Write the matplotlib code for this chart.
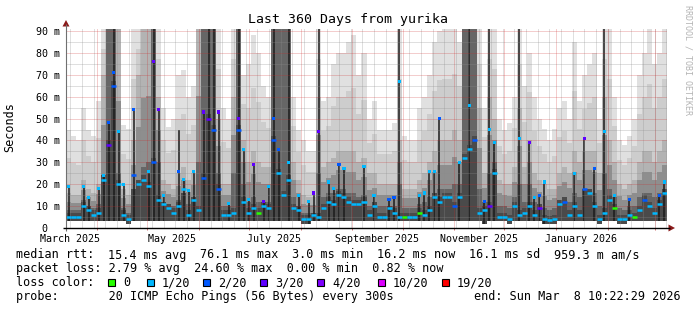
import matplotlib
matplotlib.use("Agg")
import matplotlib.pyplot as plt
from matplotlib.patches import Polygon, Rectangle
from datetime import datetime, timedelta

# ---------------- data (3-day bins, 120 bins over 360 days) ----------------
median_ms = [
    5, 5, 5, 10, 8, 6, 7, 22, 38, 65,
    20, 6, 4, 24, 20, 22, 19, 30, 13, 11,
    9, 7, 10, 18, 6, 13, 8, 23, 50, 45,
    18, 6, 6, 7, 45, 12, 7, 9, 7, 10,
    9, 40, 25, 15, 22, 9, 8, 4, 4, 6,
    5, 9, 12, 11, 15, 14, 12, 11, 11, 12,
    6, 10, 5, 5, 9, 7, 5, 5, 5, 5,
    7, 6, 8, 14, 12, 14, 14, 10, 14, 32,
    36, 40, 7, 8, 10, 25, 5, 5, 4, 10,
    6, 7, 10, 6, 9, 4, 3.5, 4, 11, 12,
    6, 10, 6, 18, 16, 10, 4, 7, 13, 9,
    4, 4, 6, 5, 8, 13, 10, 7, 11, 16]

loss_idx = [
    1, 1, 1, 1, 1, 1, 1, 1, 3, 2,
    1, 1, 1, 2, 1, 1, 1, 2, 1, 1,
    1, 1, 1, 1, 1, 1, 1, 2, 3, 2,
    2, 1, 1, 1, 2, 1, 1, 1, 0, 1,
    1, 2, 1, 1, 1, 1, 1, 1, 1, 1,
    1, 1, 1, 1, 1, 1, 1, 1, 1, 1,
    1, 1, 1, 1, 1, 1, 1, 0, 1, 1,
    0, 1, 1, 1, 1, 1, 1, 2, 1, 1,
    1, 2, 1, 1, 3, 1, 1, 1, 1, 1,
    1, 1, 1, 1, 3, 1, 1, 1, 1, 2,
    1, 1, 1, 2, 1, 1, 1, 1, 1, 0,
    1, 1, 1, 0, 1, 2, 1, 1, 1, 1]

smoke_low = [
    3, 3, 3, 3, 3, 3, 3, 3, 3, 3,
    3, 3, 2, 3, 3, 3, 3, 3, 3, 3,
    3, 3, 3, 3, 3, 3, 3, 3, 3, 3,
    3, 3, 3, 3, 3, 3, 3, 3, 3, 3,
    3, 3, 3, 3, 3, 3, 3, 2, 2, 3,
    3, 3, 3, 3, 3, 3, 3, 3, 3, 3,
    3, 3, 3, 3, 3, 3, 3, 3, 3, 3,
    3, 3, 3, 3, 3, 3, 3, 3, 3, 3,
    3, 3, 3, 2, 3, 3, 3, 3, 2, 3,
    3, 3, 3, 3, 3, 2, 2, 2, 3, 3,
    3, 3, 3, 3, 3, 3, 2, 3, 3, 3,
    2, 2, 3, 3, 3, 3, 3, 3, 3, 3]

smoke_light = [
    45, 42, 40, 55, 45, 42, 58, 91, 91, 91,
    91, 47, 45, 91, 91, 91, 91, 91, 91, 55,
    46, 50, 70, 72, 60, 65, 91, 91, 91, 91,
    91, 55, 50, 91, 91, 70, 75, 88, 80, 65,
    60, 91, 91, 91, 91, 60, 45, 40, 35, 35,
    91, 58, 60, 75, 80, 80, 85, 88, 70, 80,
    50, 58, 45, 45, 45, 48, 91, 42, 40, 40,
    55, 60, 70, 85, 90, 91, 91, 91, 85, 91,
    91, 91, 91, 55, 91, 91, 50, 45, 48, 60,
    91, 65, 80, 60, 50, 45, 40, 45, 55, 58,
    50, 85, 58, 70, 75, 80, 50, 91, 91, 60,
    40, 38, 42, 50, 70, 80, 91, 75, 80, 91]

smoke_mid = [
    16, 15, 15, 22, 18, 16, 20, 70, 91, 91,
    91, 18, 15, 40, 70, 91, 91, 91, 60, 22,
    20, 18, 25, 28, 22, 25, 91, 91, 91, 91,
    50, 20, 20, 60, 91, 40, 30, 35, 30, 28,
    28, 91, 91, 91, 91, 30, 22, 15, 14, 14,
    60, 28, 30, 32, 35, 35, 35, 35, 30, 32,
    25, 25, 20, 20, 20, 20, 40, 18, 18, 18,
    22, 25, 30, 35, 40, 40, 40, 45, 40, 91,
    91, 91, 55, 25, 60, 50, 22, 20, 20, 28,
    55, 28, 40, 25, 22, 20, 18, 18, 25, 28,
    25, 35, 30, 35, 35, 35, 25, 60, 40, 30,
    20, 18, 20, 22, 30, 35, 35, 30, 35, 40]

smoke_dark = [
    8, 8, 8, 13, 10, 9, 11, 24, 91, 91,
    25, 9, 7, 18, 22, 28, 30, 91, 30, 12,
    11, 10, 13, 16, 11, 14, 30, 91, 91, 91,
    25, 10, 10, 25, 91, 20, 12, 14, 12, 12,
    12, 91, 91, 91, 91, 14, 10, 7, 7, 7,
    25, 14, 16, 16, 18, 18, 16, 16, 14, 15,
    10, 12, 10, 10, 10, 10, 20, 9, 9, 9,
    11, 12, 14, 16, 18, 18, 18, 20, 20, 91,
    91, 91, 18, 12, 25, 30, 10, 10, 9, 14,
    20, 12, 20, 12, 11, 9, 8, 9, 13, 14,
    12, 16, 14, 18, 18, 16, 10, 25, 18, 14,
    9, 8, 10, 10, 14, 16, 16, 14, 16, 18]

peak_ms = [
    19, 0, 0, 19, 14, 0, 18, 24, 48, 71,
    44, 20, 0, 54, 0, 0, 26, 76, 54, 15,
    0, 0, 26, 22, 17, 26, 0, 53, 0, 0,
    53, 0, 11, 0, 50, 36, 13, 29, 0, 12,
    19, 50, 36, 0, 30, 0, 15, 0, 12, 16,
    44, 0, 21, 18, 29, 27, 0, 0, 0, 28,
    0, 15, 0, 0, 13, 14, 67, 0, 0, 0,
    15, 16, 26, 26, 50, 0, 0, 0, 30, 0,
    56, 0, 0, 12, 45, 39, 0, 0, 0, 0,
    41, 0, 39, 14, 15, 21, 0, 0, 0, 0,
    0, 25, 0, 41, 0, 27, 0, 44, 0, 15,
    0, 0, 13, 0, 0, 0, 0, 0, 15, 21]

peak_loss = [
    1, 0, 0, 1, 1, 0, 1, 1, 2, 2,
    1, 1, 0, 2, 0, 0, 1, 3, 3, 1,
    0, 0, 2, 1, 1, 1, 0, 3, 0, 0,
    3, 0, 1, 0, 3, 1, 1, 3, 0, 3,
    1, 2, 2, 0, 1, 0, 1, 0, 1, 3,
    3, 0, 1, 1, 2, 1, 0, 0, 0, 1,
    0, 1, 0, 0, 2, 2, 1, 0, 0, 0,
    1, 1, 1, 1, 2, 0, 0, 0, 1, 0,
    1, 0, 0, 2, 1, 1, 0, 0, 0, 0,
    1, 0, 3, 1, 2, 1, 0, 0, 0, 0,
    0, 1, 0, 3, 0, 2, 0, 1, 0, 1,
    0, 0, 2, 0, 0, 0, 0, 0, 2, 1]

needle_top = [
    0, 0, 0, 0, 0, 0, 0, 0, 0, 91,
    0, 0, 0, 0, 0, 0, 0, 91, 0, 0,
    0, 0, 45, 0, 0, 0, 0, 0, 91, 91,
    0, 0, 0, 0, 91, 0, 0, 0, 0, 0,
    0, 91, 0, 0, 91, 0, 0, 0, 0, 0,
    91, 0, 0, 0, 0, 0, 0, 0, 0, 0,
    0, 0, 0, 0, 0, 0, 91, 0, 0, 0,
    0, 0, 0, 0, 0, 0, 0, 0, 0, 0,
    91, 0, 0, 0, 91, 0, 0, 0, 0, 0,
    91, 0, 0, 0, 0, 0, 0, 0, 0, 0,
    0, 0, 0, 0, 0, 0, 0, 91, 0, 0,
    0, 0, 0, 0, 0, 0, 0, 0, 0, 0]

loss_labels = ["0", "1/20", "2/20", "3/20", "4/20", "10/20", "19/20"]
loss_colors = ["#26ff00", "#00b8ff", "#0059ff", "#5e00ff", "#7e00ff", "#dd00ff", "#ff0000"]

y_ticks = [0, 10, 20, 30, 40, 50, 60, 70, 80, 90]
y_tick_labels = [" 0  ", "10 m", "20 m", "30 m", "40 m", "50 m", "60 m", "70 m", "80 m", "90 m"]
x_label_months = [(2025, 3), (2025, 5), (2025, 7), (2025, 9), (2025, 11), (2026, 1)]
x_tick_labels = ["March 2025", "May 2025", "July 2025", "September 2025", "November 2025", "January 2026"]

title = "Last 360 Days from yurika"
y_label = "Seconds"
stats_rtt = [("median rtt:", 16), ("15.4 ms avg", 108), ("76.1 ms max", 200), ("3.0 ms min", 292),
             ("16.2 ms now", 377), ("16.1 ms sd", 469), ("959.3 m am/s", 554)]
stats_loss = "packet loss: 2.79 % avg  24.60 % max  0.00 % min  0.82 % now"
probe_text = "probe:       20 ICMP Echo Pings (56 Bytes) every 300s"
end_text = "end: Sun Mar  8 10:22:29 2026"
watermark = "RRDTOOL / TOBI OETIKER"

end_time = datetime(2026, 3, 8, 10, 22, 29)
span_days = 360
bin_days = 3
start_time = end_time - timedelta(days=span_days)


def day_of(dt):
    return (dt - start_time).total_seconds() / 86400.0


# ---------------- figure ----------------
W, H = 697, 310
MONO = "DejaVu Sans Mono"
fig = plt.figure(figsize=(W / 100, H / 100), dpi=100)
fig.patch.set_facecolor("white")

PX_L, PX_B, PX_W, PX_H = 66, 228, 601, 200
y_max = PX_H / (197.0 / 90.0)
ax = fig.add_axes([PX_L / W, (H - PX_B) / H, PX_W / W, PX_H / H])
ax.set_xlim(0, span_days)
ax.set_ylim(0, y_max)
ax.set_facecolor("white")
for s in ax.spines.values():
    s.set_visible(False)

n = len(median_ms)
lefts = [i * bin_days for i in range(n)]
centers = [l + bin_days / 2 for l in lefts]
rights = [l + bin_days for l in lefts]


def band(tops, color, z):
    heights = [max(t - b, 0) for t, b in zip(tops, smoke_low)]
    ax.bar(lefts, heights, width=bin_days, bottom=smoke_low, align="edge",
           color=color, linewidth=0, antialiased=False, zorder=z)


# smoke: graded shades between the outer (light) and inner (dark) pings
shades = [(0.0, "#e0e0e0"), (0.45, "#cdcdcd"), (1.0, "#b3b3b3")]
for frac, col in shades:
    band([l - (l - m) * frac for l, m in zip(smoke_light, smoke_mid)], col, 1)
inner = [(0.5, "#8e8e8e"), (1.0, "#666666")]
for frac, col in inner:
    band([m - (m - d) * frac for m, d in zip(smoke_mid, smoke_dark)], col, 2)
band([min(d, md + 2) for d, md in zip(smoke_dark, median_ms)], "#4a4a4a", 3)

# dark needles
nx, nlo, nhi = [], [], []
for c, lo, p, t in zip(centers, smoke_low, peak_ms, needle_top):
    top = max(p, t)
    if top > 0:
        nx.append(c); nlo.append(lo); nhi.append(min(top, y_max))
ax.vlines(nx, nlo, nhi, colors="#1c1c1c", linewidth=1.1, zorder=4)

# grid (drawn over the smoke, like rrdtool)
minor_col = (0.55, 0.55, 0.55, 0.55)
major_col = (0.80, 0.15, 0.15, 0.45)
dot = (0, (1, 1))
for v in range(5, 91, 10):
    ax.axhline(v, color=minor_col, lw=0.72, ls=dot, zorder=5)
sunday = datetime(2025, 3, 16)
while day_of(sunday) < span_days:
    ax.axvline(day_of(sunday), color=minor_col, lw=0.72, ls=dot, zorder=5)
    sunday += timedelta(days=7)
for v in y_ticks[1:]:
    ax.axhline(v, color=major_col, lw=0.72, ls=dot, zorder=5)
month_starts = []
y, m = 2025, 4
while True:
    d = day_of(datetime(y, m, 1))
    if d >= span_days:
        break
    month_starts.append(d)
    ax.axvline(d, color=major_col, lw=0.72, ls=dot, zorder=5)
    m += 1
    if m > 12:
        m = 1; y += 1

# median segments coloured by loss
ax.hlines(median_ms, lefts, rights, colors=[loss_colors[k] for k in loss_idx],
          linewidth=1.8, zorder=6)
px, py, pc = [], [], []
for c, p, k in zip(centers, peak_ms, peak_loss):
    if p > 0:
        px.append(c); py.append(p); pc.append(loss_colors[k])
ax.scatter(px, py, marker="s", s=5.0, c=pc, linewidths=0, zorder=7)

# ticks and labels
ax.set_yticks(y_ticks)
ax.set_yticklabels(y_tick_labels, family=MONO, fontsize=7.2)
ax.tick_params(axis="y", length=0, pad=4.3)
ax.set_xticks(month_starts)
ax.set_xticklabels([])
ax.tick_params(axis="x", which="major", length=1.5, width=0.7, color="#d07070", direction="out")
label_pos = [day_of(datetime(yy, mm, 16)) for yy, mm in x_label_months]
ax.set_xticks(label_pos, minor=True)
ax.set_xticklabels(x_tick_labels, minor=True, family=MONO, fontsize=7.2)
ax.tick_params(axis="x", which="minor", length=0, pad=4.0)

# ---------------- pixel overlay ----------------
ov = fig.add_axes([0, 0, 1, 1])
ov.set_xlim(0, W)
ov.set_ylim(H, 0)
ov.axis("off")
ov.patch.set_alpha(0)

ov.plot([PX_L, PX_L], [PX_B + 3, 24], color="#707070", lw=0.8, solid_capstyle="butt")
ov.plot([PX_L - 3, 670], [PX_B, PX_B], color="#000000", lw=1.0, solid_capstyle="butt")
ov.add_patch(Polygon([[PX_L - 3.5, 26.5], [PX_L + 3.5, 26.5], [PX_L, 20]], closed=True,
                     facecolor="#8b1a1a", edgecolor="none"))
ov.add_patch(Polygon([[668.5, PX_B - 3.5], [668.5, PX_B + 3.5], [675, PX_B]], closed=True,
                     facecolor="#8b1a1a", edgecolor="none"))

ov.text(348, 20, title, family=MONO, fontsize=9.5, ha="center", va="center")
ov.text(10, 127, y_label, family=MONO, fontsize=8.5, ha="center", va="center", rotation=90)
ov.text(688, 60, watermark, family=MONO, fontsize=6.0, ha="center", va="center",
        rotation=270, color="#b4b4b4")

LEG = 8.5
row_y = [255, 268.5, 282.5, 296.5]
for txt, x0 in stats_rtt:
    ov.text(x0, row_y[0], txt, family=MONO, fontsize=LEG, ha="left", va="center")
ov.text(16, row_y[1], stats_loss, family=MONO, fontsize=LEG, ha="left", va="center")
ov.text(16, row_y[2], "loss color:", family=MONO, fontsize=LEG, ha="left", va="center")
box_x = [108, 147, 203, 260, 317, 378, 442]
for bx, lab, col in zip(box_x, loss_labels, loss_colors):
    ov.add_patch(Rectangle((bx, row_y[2] - 3.5), 7, 7, facecolor=col, edgecolor="black", lw=0.8))
    ov.text(bx + 15, row_y[2], lab, family=MONO, fontsize=LEG, ha="left", va="center")
ov.text(16, row_y[3], probe_text, family=MONO, fontsize=LEG, ha="left", va="center")
ov.text(681, row_y[3], end_text, family=MONO, fontsize=LEG, ha="right", va="center")

fig.savefig("out.png", dpi=100, facecolor="white")
